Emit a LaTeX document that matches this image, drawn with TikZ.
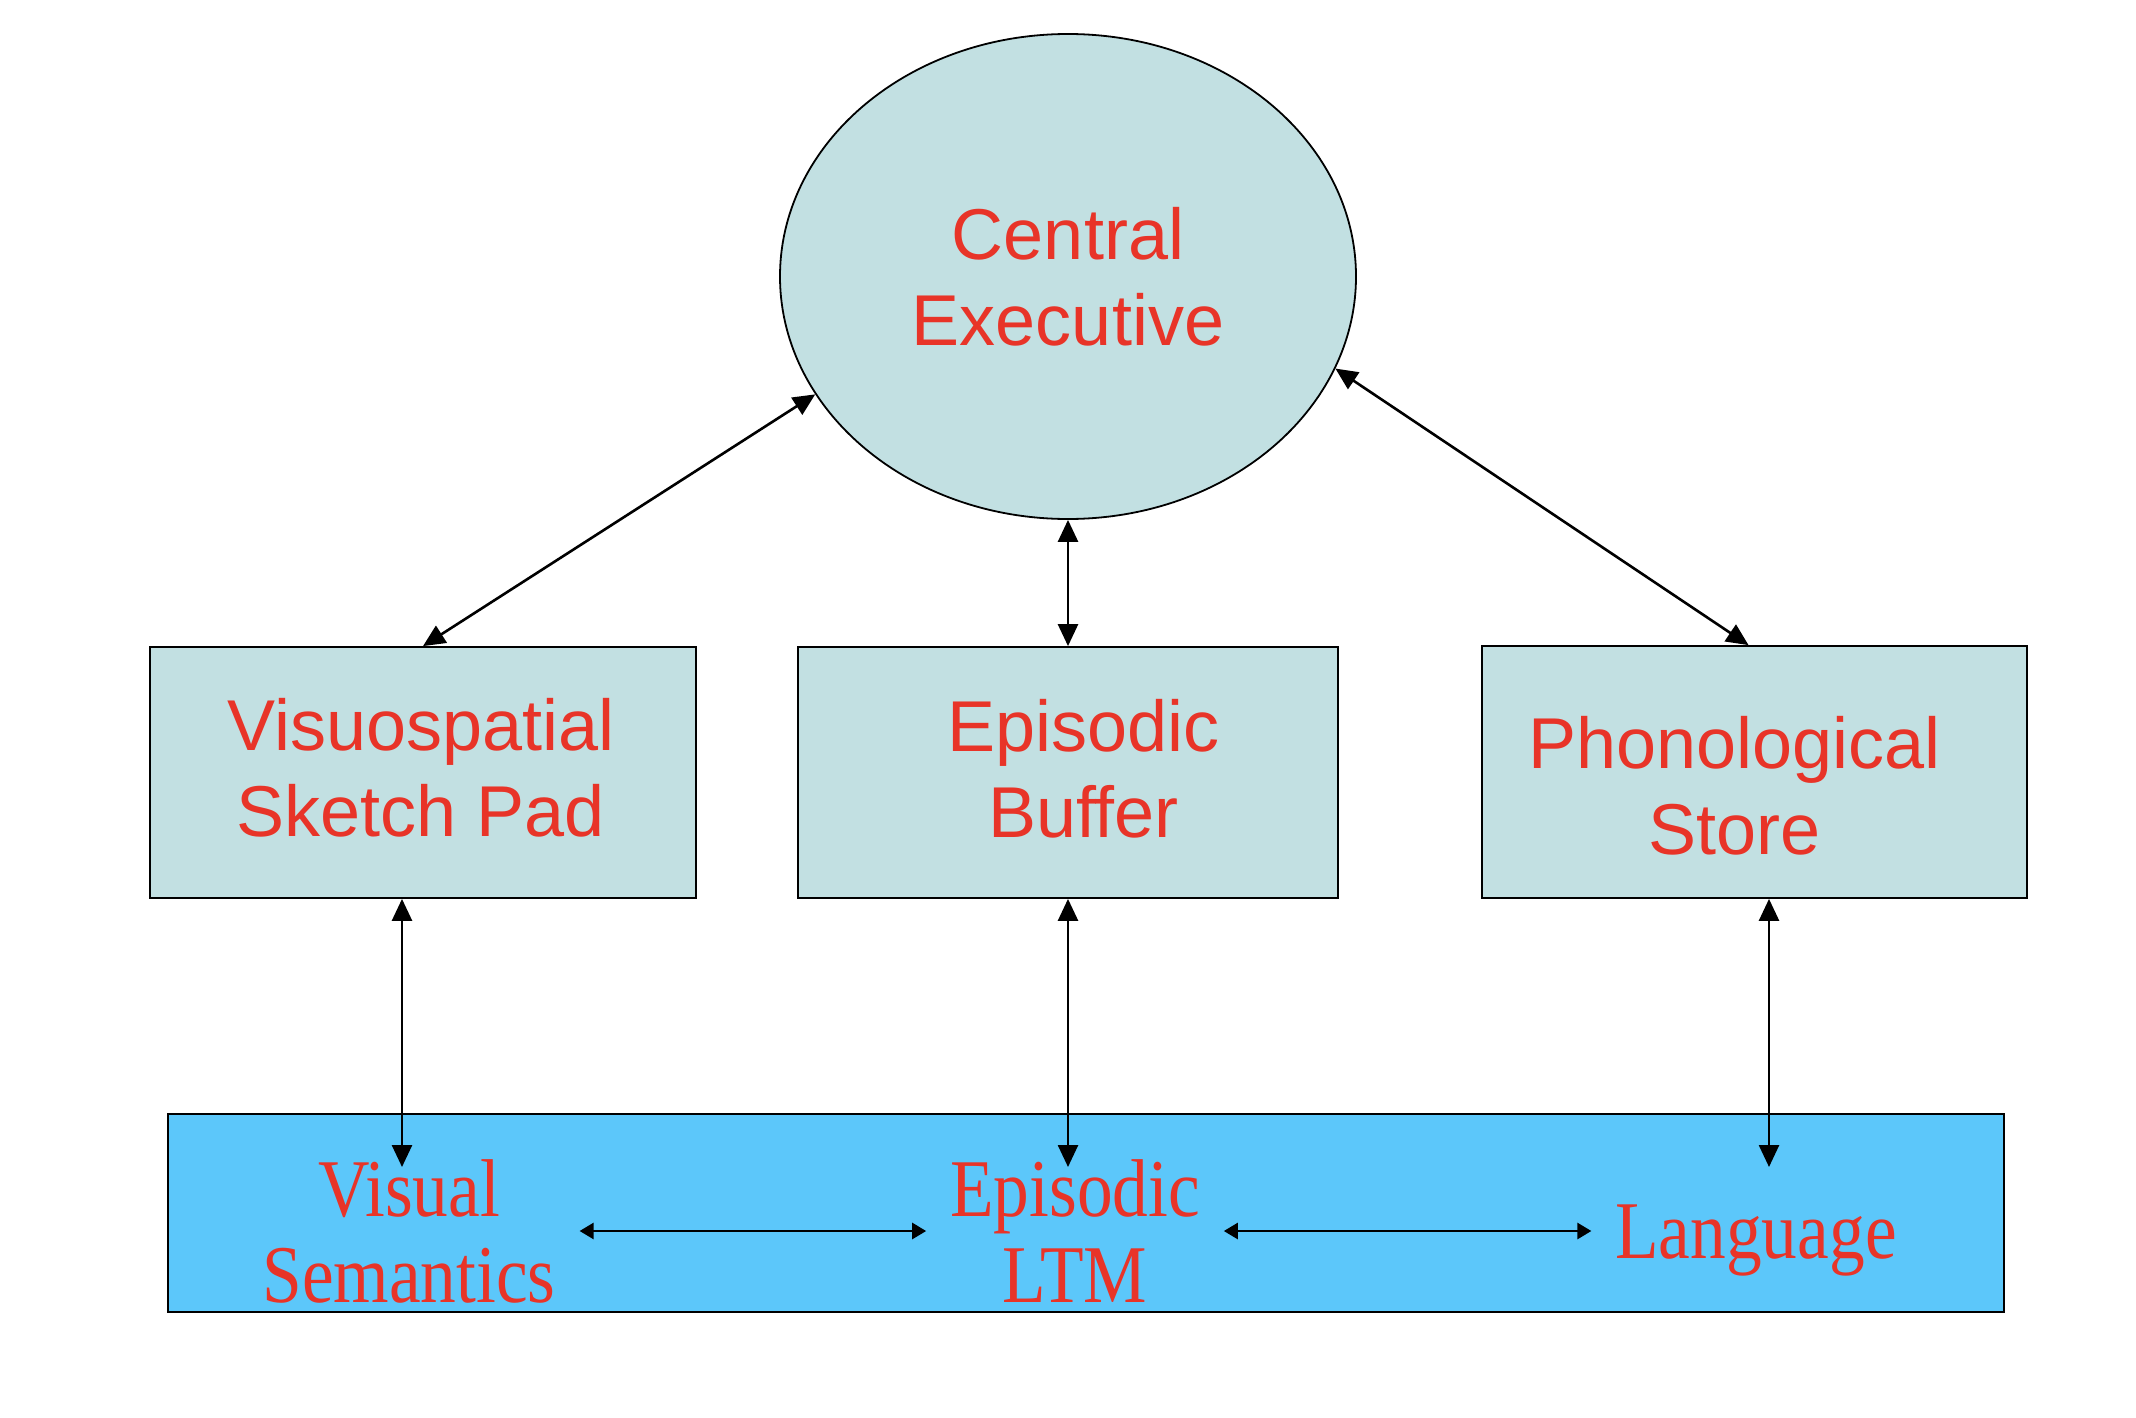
\documentclass[tikz,border=0pt]{standalone}
\usepackage{fontspec}
\usepackage{xcolor}
\usetikzlibrary{arrows.meta,shapes.geometric}

\newfontfamily\boxfont{Liberation Sans}
\newfontfamily\ltmfont[FakeStretch=0.87]{Liberation Serif}

\definecolor{boxgray}{RGB}{194,224,226}
\definecolor{ltmblue}{RGB}{92,199,250}
\definecolor{labelred}{RGB}{232,52,40}

\begin{document}
\begin{tikzpicture}[x=0.5pt, y=-0.5pt, <->, >={Triangle[length=11pt,width=10pt]}, line width=1.3pt,
    store/.style={draw, line width=0.9pt, fill=boxgray, inner sep=0pt},
    boxtext/.style={text=labelred, align=center, font=\boxfont\fontsize{36}{43}\selectfont},
    ltmtext/.style={text=labelred, align=center, inner sep=0pt, outer sep=12pt,
                    font=\ltmfont\fontsize{41}{43}\selectfont},
    small/.style={>={Triangle[length=7pt,width=8pt]}}]
  \useasboundingbox (0,0) rectangle (2136,1418);

  \node[store,ellipse,boxtext,minimum width=288pt,minimum height=242.5pt] (CE) at (1068,276.5) {Central\\Executive};
  \node[store,minimum width=273pt,minimum height=125.5pt] (VSSP) at (423,772.5)  {};
  \node[store,minimum width=270pt,minimum height=125.5pt] (EB)   at (1068,772.5) {};
  \node[store,minimum width=272.5pt,minimum height=126pt] (PS)   at (1754.5,772) {};
  \node[draw,line width=1.4pt,fill=ltmblue,inner sep=0pt,minimum width=918pt,minimum height=99pt] (LTM) at (1086,1213) {};

  \node[boxtext,xshift=-1pt,yshift=2.5pt] (VSSPtext) at (VSSP) {Visuospatial\\Sketch Pad};
  \node[boxtext,xshift=7.75pt,yshift=2pt] (EBtext)   at (EB)   {Episodic\\Buffer};
  \node[boxtext,xshift=-10pt,yshift=-7pt] (PStext)   at (PS)   {Phonological\\Store};

  \node[ltmtext]             (VS)   at (409,1231)    {Visual\\Semantics};
  \node[ltmtext]             (ELTM) at (1075,1231)   {Episodic\\LTM};
  \node[ltmtext,anchor=base] (LANG) at (1756,1258.5) {Language};

  \coordinate (VSin)   at (402,1167);
  \coordinate (ELTMin) at (1068,1167);
  \coordinate (LANGin) at (1769,1167);

  \path (CE.205)              edge (VSSP.north)
        (CE.south)            edge (EB.north)
        (CE.341)              edge ([xshift=-3pt]PS.north)
        (VSSP.south -| VSin)  edge (VSin)
        (EB.south)            edge (ELTMin)
        (PS.south -| LANGin)  edge (LANGin)
        ;
  \path[small] (VS.east)   edge (ELTM.west)
               (ELTM.east) edge (ELTM.east -| LANG.west)
               ;
\end{tikzpicture}
\end{document}
